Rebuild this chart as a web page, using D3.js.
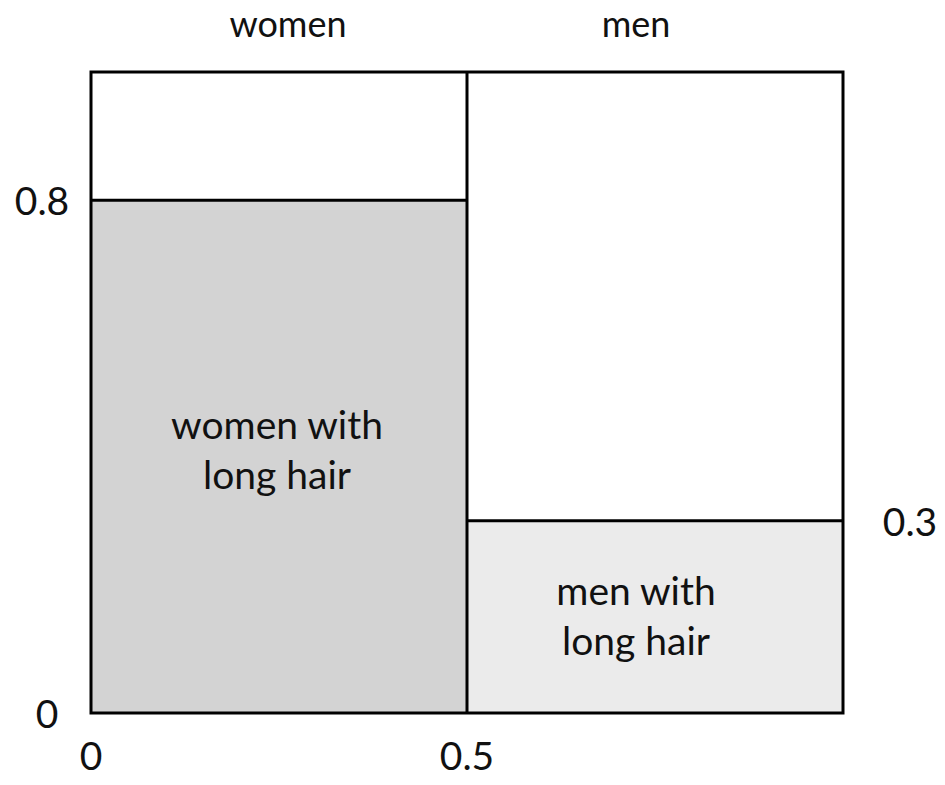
<!DOCTYPE html>
<html>
<head>
<meta charset="utf-8">
<script src="https://cdn.jsdelivr.net/npm/d3@7"></script>
<style>
  body { margin: 0; background: #fff; }
  text { font-family: Lato, "Open Sans", sans-serif; fill: #111; }
</style>
</head>
<body>
<div id="chart"></div>
<script>
// mosaic data
const groups = ["women", "men"];
const groupShare = [0.5, 0.5];
const longHairShare = [0.8, 0.3];
const innerLabels = [["women with", "long hair"], ["men with", "long hair"]];
const fills = ["#d3d3d3", "#ebebeb"];
const xTicks = [0, 0.5];

const width = 945, height = 785;
const margin = { top: 72, right: 102, bottom: 72, left: 91 };
const fontSize = 39;

const svg = d3.select("#chart").append("svg")
  .attr("width", width)
  .attr("height", height);

const x = d3.scaleLinear().domain([0, 1]).range([margin.left, width - margin.right]);
const y = d3.scaleLinear().domain([0, 1]).range([height - margin.bottom, margin.top]);

// running x start of each column
const starts = groupShare.map((d, i) => d3.sum(groupShare.slice(0, i)));
const cols = groups.map((g, i) => ({
  name: g, x0: starts[i], x1: starts[i] + groupShare[i],
  p: longHairShare[i], fill: fills[i], lines: innerLabels[i]
}));

// filled parts
svg.selectAll("rect.fill")
  .data(cols)
  .enter().append("rect")
  .attr("class", "fill")
  .attr("x", d => x(d.x0))
  .attr("y", d => y(d.p))
  .attr("width", d => x(d.x1) - x(d.x0))
  .attr("height", d => y(0) - y(d.p))
  .attr("fill", d => d.fill);

// horizontal split lines
svg.selectAll("line.split")
  .data(cols)
  .enter().append("line")
  .attr("x1", d => x(d.x0))
  .attr("x2", d => x(d.x1))
  .attr("y1", d => y(d.p))
  .attr("y2", d => y(d.p))
  .attr("stroke", "#000")
  .attr("stroke-width", 3);

// column divider
svg.selectAll("line.div")
  .data(starts.slice(1))
  .enter().append("line")
  .attr("x1", d => x(d)).attr("x2", d => x(d))
  .attr("y1", y(1)).attr("y2", y(0))
  .attr("stroke", "#000")
  .attr("stroke-width", 3);

// outer frame
svg.append("rect")
  .attr("x", x(0))
  .attr("y", y(1))
  .attr("width", x(1) - x(0))
  .attr("height", y(0) - y(1))
  .attr("fill", "none")
  .attr("stroke", "#000")
  .attr("stroke-width", 3);

// group titles (slightly off-centre like the source)
const titleShift = { women: 9, men: -19 };
svg.selectAll("text.title")
  .data(cols)
  .enter().append("text")
  .attr("x", d => x((d.x0 + d.x1) / 2) + titleShift[d.name])
  .attr("y", 37)
  .attr("text-anchor", "middle")
  .attr("font-size", 36)
  .text(d => d.name);

// labels inside filled parts
const innerShift = { women: [-2, 7], men: [-19, 13] };
cols.forEach(d => {
  const [dx, dy] = innerShift[d.name];
  const cx = x((d.x0 + d.x1) / 2) + dx;
  const cy = (y(d.p) + y(0)) / 2;
  d.lines.forEach((t, j) => {
    svg.append("text")
      .attr("x", cx)
      .attr("y", cy + dy + (j - 0.5) * 50)
      .attr("text-anchor", "middle")
      .attr("font-size", fontSize)
      .text(t);
  });
});

// y labels
svg.append("text")
  .attr("x", 42).attr("y", y(0.8) + 15)
  .attr("text-anchor", "middle").attr("font-size", fontSize)
  .text("0.8");
svg.append("text")
  .attr("x", 910).attr("y", y(0.3) + 15)
  .attr("text-anchor", "middle").attr("font-size", fontSize)
  .text("0.3");
svg.append("text")
  .attr("x", 47).attr("y", y(0) + 15)
  .attr("text-anchor", "middle").attr("font-size", fontSize)
  .text("0");

// x labels
svg.selectAll("text.xt")
  .data(xTicks)
  .enter().append("text")
  .attr("x", d => x(d))
  .attr("y", 770)
  .attr("text-anchor", "middle")
  .attr("font-size", fontSize)
  .text(d => d === 0 ? "0" : d);
</script>
</body>
</html>
